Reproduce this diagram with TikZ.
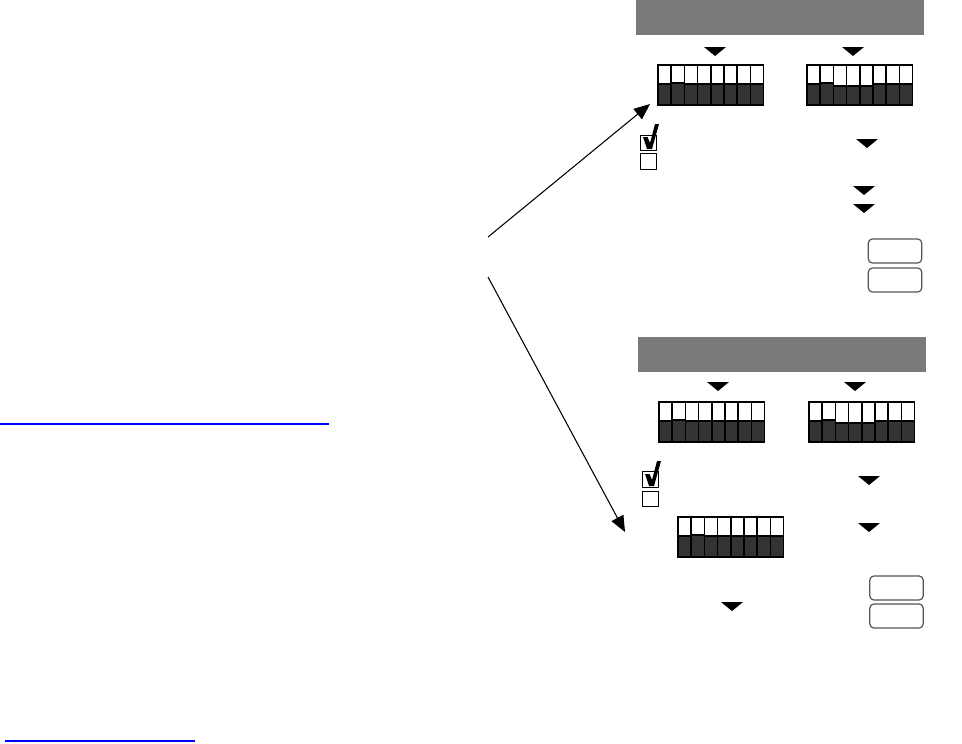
\documentclass[tikz,border=0pt]{standalone}
\usetikzlibrary{arrows.meta}
\definecolor{bargray}{HTML}{7A7A7A}
\definecolor{dipdark}{HTML}{333333}
\definecolor{btnedge}{HTML}{555555}
\tikzset{
  px/.style={x=0.75pt,y=-0.75pt},
  headbar/.style={fill=bargray,draw=none},
  droptri/.style={fill=black,draw=none},
  cbox/.style={draw=black,line width=0.9pt,fill=white},
  btn/.style={draw=btnedge,line width=0.9pt,rounded corners=3pt,fill=white},
  pointer/.style={draw=black,line width=0.8pt,-{Triangle[length=12pt,width=10pt]}},
  linkline/.style={draw=blue,line width=1pt},
  dipcell/.style={draw=black,line width=1.3pt,fill=white},
  dipbar/.style={draw=black,line width=1.1pt,fill=dipdark}
}
% DIP switch: #1 = x left, #2 = y top, #3 = list of bar offsets
\newcommand\DipSw[3]{%
  \foreach \o [count=\i from 0] in {#3} {%
    \pgfmathsetmacro\xa{#1+\i*13.2}%
    \pgfmathsetmacro\xb{#1+(\i+1)*13.2}%
    \pgfmathsetmacro\yb{#2+19+\o}%
    \path[dipcell] (\xa,#2) rectangle (\xb,#2+40);
    \path[dipbar] (\xa,\yb) rectangle (\xb,#2+40);
  }%
}
\newcommand\DownTri[2]{%
  \path[droptri] (#1-11,#2) -- (#1+11,#2) -- (#1,#2+9) -- cycle;%
}
% bold check mark, #1,#2 = top-left corner of its box
\newcommand\CheckMk[2]{%
  \path[fill=black] (#1+3,#2+2) -- (#1+7.5,#2+2) -- (#1+10,#2+8) -- (#1+15,#2-11) -- (#1+19,#2-11) -- (#1+12,#2+14) -- (#1+7,#2+14) -- cycle;%
}
\begin{document}
\begin{tikzpicture}[px]
\useasboundingbox[fill=white] (0,0) rectangle (962,743);
% ---- top panel ----
\path[headbar] (636,0) rectangle (924,35);
\DownTri{715}{47}
\DownTri{853}{47}
\DipSw{658}{65}{0,-1,0,0,0,0,0,0}
\DipSw{807}{65}{0,-1,2,2,2,0,0,0}
\node[cbox,minimum width=12.5pt,minimum height=11.5pt,inner sep=0pt] (cbA) at (648.5,143) {};
\CheckMk{640}{135}
\node[cbox,minimum width=12.5pt,minimum height=11.5pt,inner sep=0pt] (cbB) at (648.5,161.5) {};
\DownTri{867}{139}
\DownTri{864}{186}
\DownTri{864}{204}
\node[btn,minimum width=40pt,minimum height=18pt,inner sep=0pt] (btnA) at (895,251) {};
\node[btn,minimum width=40pt,minimum height=18pt,inner sep=0pt] (btnB) at (895,280) {};
% ---- lower panel ----
\path[headbar] (638,337) rectangle (926,372);
\DownTri{718}{382}
\DownTri{855}{382}
\DipSw{659}{402}{0,-1,0,0,0,0,0,0}
\DipSw{809}{402}{0,-1,2,2,2,0,0,0}
\node[cbox,minimum width=12.5pt,minimum height=11.5pt,inner sep=0pt] (cbC) at (650.5,479.5) {};
\CheckMk{642}{472}
\node[cbox,minimum width=12.5pt,minimum height=11.5pt,inner sep=0pt] (cbD) at (650.5,499) {};
\DownTri{869}{476}
\DownTri{869}{523}
\DipSw{678}{517}{0,-1,0,0,0,0,0,0}
\DownTri{732}{602}
\node[btn,minimum width=40pt,minimum height=18pt,inner sep=0pt] (btnC) at (896.5,588) {};
\node[btn,minimum width=40pt,minimum height=18pt,inner sep=0pt] (btnD) at (896.5,616) {};
% ---- pointers ----
\coordinate (tailA) at (488,237);
\coordinate (tipA) at (650,104);
\coordinate (tailB) at (488,277);
\coordinate (tipB) at (625,532);
\draw[pointer] (tailA) -- (tipA);
\draw[pointer] (tailB) -- (tipB);
% ---- link underlines ----
\coordinate (lkA1) at (0,424);
\coordinate (lkA2) at (329,424);
\coordinate (lkB1) at (5,741);
\coordinate (lkB2) at (195,741);
\draw[linkline] (lkA1) -- (lkA2);
\draw[linkline] (lkB1) -- (lkB2);
\end{tikzpicture}
\end{document}
